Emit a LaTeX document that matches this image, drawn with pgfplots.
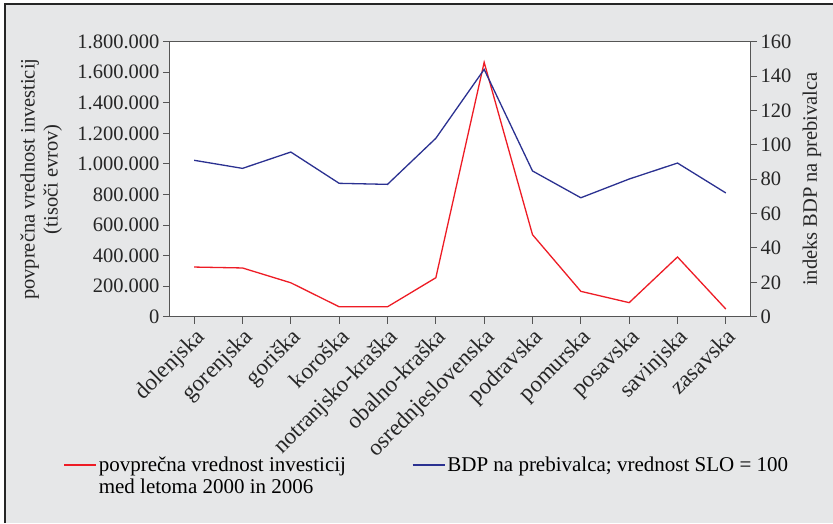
\documentclass[border=0pt]{standalone}
\usepackage{pgfplots}
\pgfplotsset{compat=1.18}
\usepackage{fontspec}
\setmainfont{Liberation Serif}
\definecolor{bg}{HTML}{E6E7E8}
\definecolor{axc}{HTML}{555555}
\definecolor{myred}{HTML}{EE1C25}
\definecolor{myblue}{HTML}{2B3191}

\pgfplotstableread{
x inv bdp
0 325000 91.0
1 319000 86.3
2 222000 95.8
3 65000 77.6
4 65000 77.0
5 255000 103.8
6 1665000 143.9
7 537000 84.8
8 166000 69.2
9 92000 80.1
10 391000 89.4
11 50000 72.0
}\datatab

\begin{document}
\begin{tikzpicture}[x=1pt,y=1pt]
\useasboundingbox (0,0) rectangle (833,523);
\fill[bg] (5,0) rectangle (833,519);
\draw[line width=1.4pt, black!85] (5,0) -- (5,519) -- (833,519);
\pgfplotsset{
  common/.style={
    scale only axis, width=580pt, height=275pt,
    at={(170pt,206.3pt)}, anchor=south west,
    xmin=-0.5, xmax=11.5,
    tick align=outside,
    major tick length=7pt,
    axis line style={axc, line width=1pt},
    every tick/.style={axc, line width=1pt},
    tick label style={font=\fontsize{20.5}{23}\selectfont, text=black!85},
    label style={font=\fontsize{20.5}{23}\selectfont, text=black!85},
    /pgf/number format/assume math mode=true,
  }
}
\begin{axis}[common,
  axis background/.style={fill=white},
  ymin=0, ymax=1800000,
  ytick={0,200000,...,1800000},
  scaled y ticks=false,
  yticklabel style={/pgf/number format/.cd, fixed, 1000 sep={.}},
  ytick pos=left, xtick pos=bottom,
  xtick={0,...,11},
  xticklabels={dolenjska,gorenjska,goriška,koroška,notranjsko-kraška,obalno-kraška,osrednjeslovenska,podravska,pomurska,posavska,savinjska,zasavska},
  xticklabel style={rotate=45, anchor=north east, inner sep=2pt, font=\fontsize{23}{25}\selectfont},
  ylabel={povprečna vrednost investicij\\(tisoči evrov)},
  ylabel style={align=center, at={(axis description cs:-0.222,0.5)}, anchor=center},
]
\addplot[myred, line width=1.3pt] table[x=x, y=inv] {\datatab};
\end{axis}
\begin{axis}[common,
  ymin=0, ymax=160,
  ytick={0,20,...,160},
  axis y line*=right,
  axis x line=none,
  ylabel={indeks BDP na prebivalca},
  ylabel style={at={(axis description cs:1.107,0.5)}, anchor=center},
  legend columns=2,
  legend style={draw=none, fill=none, at={(-0.184,-0.495)}, anchor=north west,
    font=\fontsize{21}{23}\selectfont, cells={anchor=base west},
    /tikz/every even column/.append style={column sep=64pt},
    inner sep=0pt},
  legend image code/.code={\draw[#1] (0pt,6pt) -- (32pt,6pt);},
]
\addlegendimage{myred, line width=1.3pt}
\addlegendentry{\begin{tabular}[t]{@{}l@{}}povprečna vrednost investicij\\[-1pt]med letoma 2000 in 2006\end{tabular}}
\addplot[myblue, line width=1.3pt] table[x=x, y=bdp] {\datatab};
\addlegendentry{BDP na prebivalca; vrednost SLO = 100}
\end{axis}
\end{tikzpicture}
\end{document}
